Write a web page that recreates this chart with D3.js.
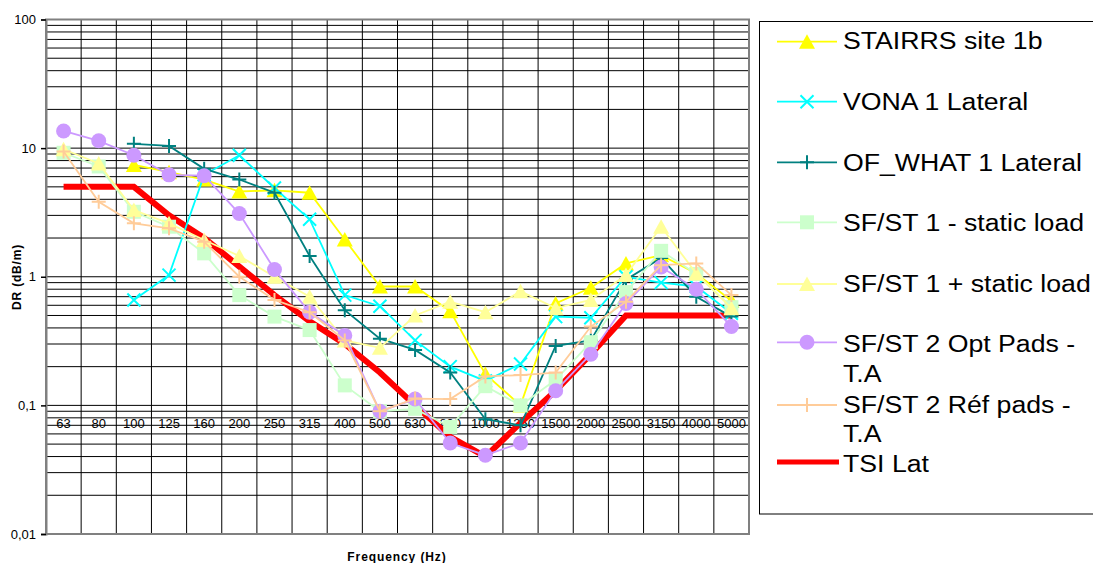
<!DOCTYPE html>
<html>
<head>
<meta charset="utf-8">
<script src="https://cdn.jsdelivr.net/npm/d3@7"></script>
<style>
  body { margin: 0; background: #fff; }
  svg { display: block; font-family: "Liberation Sans", Arial, sans-serif; }
</style>
</head>
<body>
<svg id="chart" width="1093" height="563"></svg>
<script>
// Third-octave band centre frequencies (Hz)
const frequencies = ["63","80","100","125","160","200","250","315","400","500",
                     "630","800","1000","1250","1500","2000","2500","3150","4000","5000"];

// Track decay rates, DR (dB/m)
const stairrsSite1b   = [null, null, 7.4, 6.5, 5.7, 4.6, 4.7, 4.5, 1.95, 0.84, 0.84, 0.54, 0.175, 0.10, 0.62, 0.82, 1.27, 1.47, 1.06, 0.65];
const vona1Lateral    = [null, null, 0.66, 1.03, 6.2, 8.8, 4.9, 2.8, 0.72, 0.59, 0.32, 0.20, 0.155, 0.21, 0.49, 0.48, 1.0, 0.9, 0.84, 0.52];
const ofWhat1Lateral  = [null, null, 10.8, 10.4, 6.9, 5.7, 4.5, 1.45, 0.55, 0.33, 0.27, 0.18, 0.078, 0.07, 0.29, 0.32, 0.95, 1.4, 0.7, 0.49];
const sfst1Minus      = [9.2, 7.2, 3.2, 2.45, 1.52, 0.72, 0.49, 0.385, 0.143, 0.09, 0.094, 0.068, 0.141, 0.10, 0.158, 0.31, 0.76, 1.59, 1.05, 0.58];
const sfst1Plus       = [9.8, 7.6, 3.3, 2.6, 1.93, 1.45, 1.0, 0.70, 0.32, 0.28, 0.50, 0.64, 0.53, 0.77, 0.57, 0.66, 1.03, 2.45, 1.06, 0.57];
const sfst2OptPads    = [13.6, 11.4, 8.8, 6.2, 6.1, 3.1, 1.14, 0.53, 0.35, 0.09, 0.112, 0.051, 0.041, 0.051, 0.13, 0.25, 0.62, 1.19, 0.80, 0.41];
const sfst2RefPads    = [9.4, 3.83, 2.6, 2.38, 1.87, 1.0, 0.66, 0.53, 0.32, 0.09, 0.113, 0.112, 0.168, 0.172, 0.18, 0.41, 0.64, 1.23, 1.27, 0.72];
const tsiLat          = [5, 5, 5, 3, 2, 1.2, 0.72, 0.45, 0.3, 0.18, 0.1, 0.057, 0.04, 0.073, 0.13, 0.25, 0.5, 0.5, 0.5, 0.5];

// Axis labels
const yTickValues = [0.01, 0.1, 1, 10, 100];
const yTickLabels = ["0,01", "0,1", "1", "10", "100"];

const series = [
  { name: ["STAIRRS site 1b"],            values: stairrsSite1b,  color: "#FFFF00", marker: "triangle" },
  { name: ["VONA 1 Lateral"],             values: vona1Lateral,   color: "#00FFFF", marker: "x" },
  { name: ["OF_WHAT 1 Lateral"],          values: ofWhat1Lateral, color: "#008080", marker: "plus" },
  { name: ["SF/ST 1 - static load"],      values: sfst1Minus,     color: "#CCFFCC", marker: "square" },
  { name: ["SF/ST 1 + static load"],      values: sfst1Plus,      color: "#FFFF99", marker: "triangle" },
  { name: ["SF/ST 2 Opt Pads -", "T.A"],  values: sfst2OptPads,   color: "#CC99FF", marker: "circle" },
  { name: ["SF/ST 2 Réf pads -", "T.A"],  values: sfst2RefPads,   color: "#FFCC99", marker: "plus" },
  { name: ["TSI Lat"],                    values: tsiLat,         color: "#FF0000", marker: "none", thick: true }
];

const svg = d3.select("#chart");
const plot = { left: 46, right: 749, top: 19.5, bottom: 534 };

const x = d3.scaleBand().domain(frequencies).range([plot.left, plot.right]).padding(0);
const y = d3.scaleLog().domain([0.01, 100]).range([plot.bottom, plot.top]);
const cx = f => x(f) + x.bandwidth() / 2;

// Grid: one horizontal line per 1..9 step of each decade, vertical lines between bands
const grid = svg.append("g").attr("stroke", "#000").attr("stroke-width", 1);
grid.selectAll("line.h").data(y.ticks()).join("line")
  .attr("x1", plot.left).attr("x2", plot.right)
  .attr("y1", d => y(d)).attr("y2", d => y(d));
grid.selectAll("line.v").data(frequencies.slice(1)).join("line")
  .attr("x1", d => x(d)).attr("x2", d => x(d))
  .attr("y1", plot.top).attr("y2", plot.bottom);

// Plot frame
svg.append("rect")
  .attr("x", plot.left).attr("y", plot.top)
  .attr("width", plot.right - plot.left).attr("height", plot.bottom - plot.top)
  .attr("fill", "none").attr("stroke", "#808080").attr("stroke-width", 2);

// Y axis (log)
const yAxis = svg.append("g").attr("transform", `translate(${plot.left},0)`)
  .call(d3.axisLeft(y).tickValues(yTickValues)
    .tickFormat((d, i) => yTickLabels[i]).tickSize(5).tickPadding(5));
yAxis.select(".domain").attr("stroke", "#808080").attr("stroke-width", 2);
yAxis.selectAll(".tick line").attr("stroke", "#000").attr("stroke-width", 1.5);
yAxis.selectAll("text").attr("font-size", 13).attr("fill", "#000")
  .attr("font-family", "Liberation Sans, Arial, sans-serif");

// Category labels sit where the axis crosses at 0,1
const xAxis = svg.append("g").attr("transform", `translate(0,${y(0.1)})`)
  .call(d3.axisBottom(x).tickSize(0).tickPadding(13));
xAxis.select(".domain").remove();
xAxis.selectAll("text").attr("font-size", 13).attr("fill", "#000")
  .attr("font-family", "Liberation Sans, Arial, sans-serif");

// Axis titles
svg.append("text")
  .attr("transform", "translate(21,277) rotate(-90)")
  .attr("text-anchor", "middle").attr("font-weight", "bold")
  .attr("font-size", 12).attr("letter-spacing", 0.8)
  .text("DR (dB/m)");
svg.append("text")
  .attr("x", 397).attr("y", 561)
  .attr("text-anchor", "middle").attr("font-weight", "bold")
  .attr("font-size", 12).attr("letter-spacing", 0.9)
  .text("Frequency (Hz)");

// Marker drawing
function drawMarker(g, type, color, px, py) {
  if (type === "triangle") {
    g.append("path").attr("d", `M${px},${py - 7.5}L${px + 8},${py + 7}L${px - 8},${py + 7}Z`)
      .attr("fill", color);
  } else if (type === "square") {
    g.append("rect").attr("x", px - 7).attr("y", py - 7).attr("width", 14).attr("height", 14)
      .attr("fill", color);
  } else if (type === "circle") {
    g.append("circle").attr("cx", px).attr("cy", py).attr("r", 7.5).attr("fill", color);
  } else if (type === "x") {
    g.append("path").attr("d", `M${px - 6.5},${py - 6.5}L${px + 6.5},${py + 6.5}M${px - 6.5},${py + 6.5}L${px + 6.5},${py - 6.5}`)
      .attr("stroke", color).attr("stroke-width", 2).attr("fill", "none");
  } else if (type === "plus") {
    g.append("path").attr("d", `M${px - 7},${py}H${px + 7}M${px},${py - 7}V${py + 7}`)
      .attr("stroke", color).attr("stroke-width", 2).attr("fill", "none");
  }
}

const line = d3.line()
  .defined(d => d.v != null)
  .x(d => cx(d.f))
  .y(d => y(d.v));

// Reference limit underneath, measured series on top in legend order
const drawOrder = [series[7], ...series.slice(0, 7)];
drawOrder.forEach(s => {
  const pts = frequencies.map((f, i) => ({ f, v: s.values[i] }));
  const g = svg.append("g");
  g.append("path").datum(pts).attr("d", line)
    .attr("fill", "none").attr("stroke", s.color)
    .attr("stroke-width", s.thick ? 6 : 1.8)
    .attr("stroke-linejoin", "miter");
  if (s.marker !== "none") {
    pts.filter(d => d.v != null).forEach(d => drawMarker(g, s.marker, s.color, cx(d.f), y(d.v)));
  }
});

// Legend
const legend = svg.append("g");
legend.append("rect").attr("x", 759.5).attr("y", 21.5).attr("width", 400).attr("height", 492.5)
  .attr("fill", "#fff").attr("stroke", "#000").attr("stroke-width", 1);

const legendRows = [
  { line: 41.7,  base: [48.5] },
  { line: 101.7, base: [110] },
  { line: 162.3, base: [170.6] },
  { line: 222.3, base: [230.6] },
  { line: 284,   base: [292] },
  { line: 342.3, base: [351.5, 381.5] },
  { line: 405,   base: [412.5, 442] },
  { line: 462,   base: [472] }
];

series.forEach((s, i) => {
  const r = legendRows[i];
  const g = legend.append("g");
  g.append("line").attr("x1", 777).attr("x2", s.thick ? 839 : 837)
    .attr("y1", r.line).attr("y2", r.line)
    .attr("stroke", s.color).attr("stroke-width", s.thick ? 5 : 1.8);
  if (s.marker !== "none") drawMarker(g, s.marker, s.color, 807, r.line);
  s.name.forEach((t, k) => {
    g.append("text")
      .attr("transform", `translate(843,${r.base[k]}) scale(1.16,1)`)
      .attr("font-size", 23).attr("fill", "#000")
      .text(t);
  });
});
</script>
</body>
</html>
